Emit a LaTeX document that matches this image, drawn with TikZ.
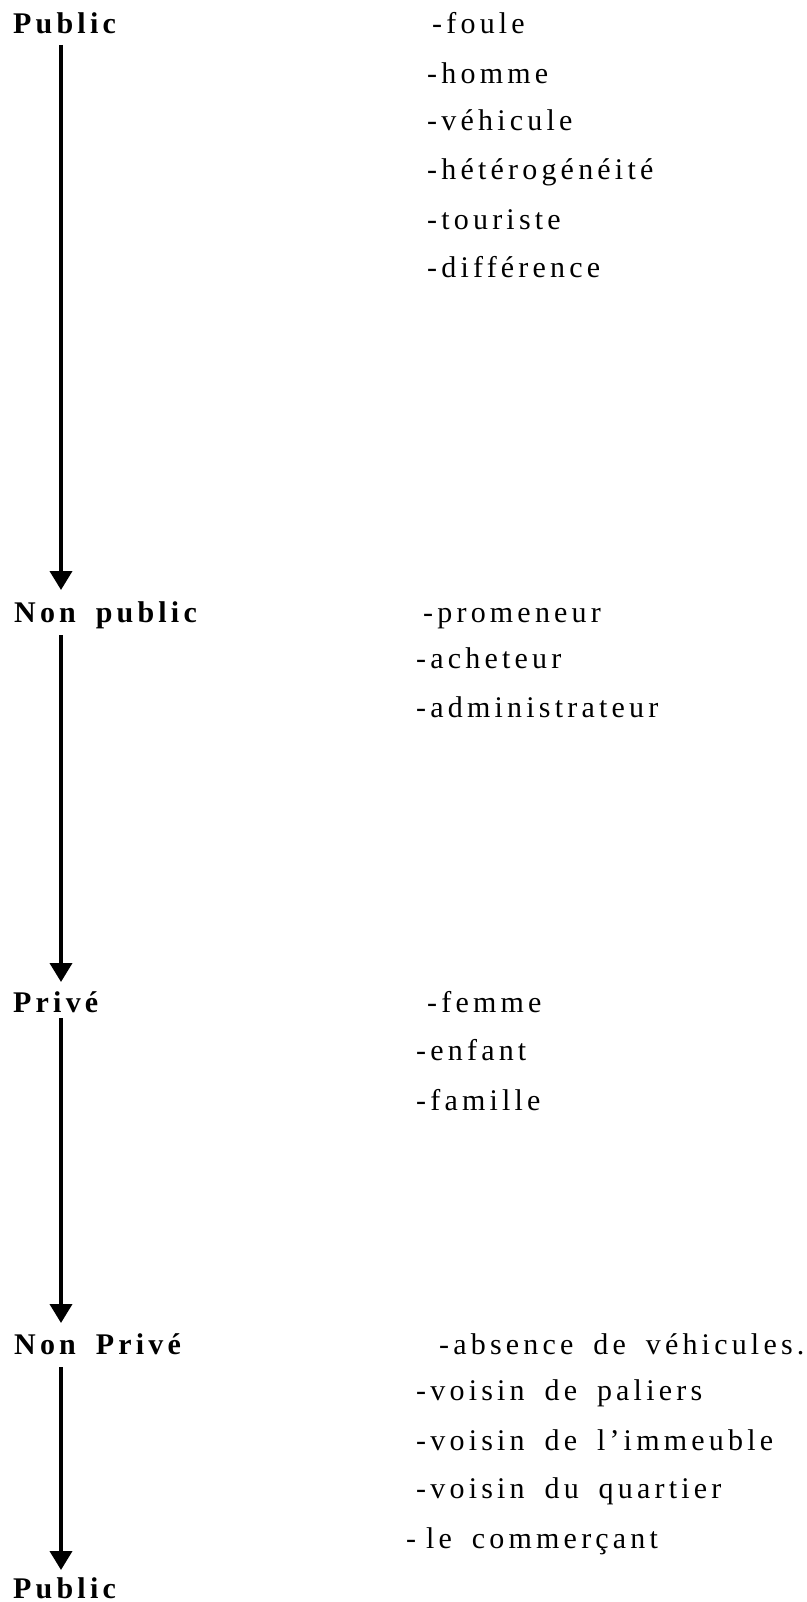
\documentclass[tikz,border=0pt]{standalone}
\usepackage{fontspec}
\setmainfont{Liberation Serif}[LetterSpace=14,WordSpace=1.7]
\usetikzlibrary{arrows.meta}
\begin{document}
\begin{tikzpicture}[x=1pt,y=1pt,
  lab/.style={anchor=base west,inner sep=0pt,font=\fontsize{30pt}{36pt}\selectfont\bfseries},
  itm/.style={anchor=base west,inner sep=0pt,font=\fontsize{30pt}{36pt}\selectfont},
  flow/.style={line width=3.8pt,-{Triangle[width=22pt,length=19pt]}}]
\useasboundingbox (0,0) rectangle (806,-1602);
% left labels
\node[lab] (l1) at (13,-34) {Public};
\node[lab] (l2) at (14,-622) {Non public};
\node[lab] (l3) at (13,-1012) {Privé};
\node[lab] (l4) at (14,-1354) {Non Privé};
\node[lab] (l5) at (13,-1598) {Public};
% arrow ends
\coordinate (s1) at (61,-45);   \coordinate (e1) at (61,-590);
\coordinate (s2) at (61,-635);  \coordinate (e2) at (61,-982);
\coordinate (s3) at (61,-1018); \coordinate (e3) at (61,-1323);
\coordinate (s4) at (61,-1367); \coordinate (e4) at (61,-1570);
\draw[flow] (s1) -- (e1);
\draw[flow] (s2) -- (e2);
\draw[flow] (s3) -- (e3);
\draw[flow] (s4) -- (e4);
% group 1
\node[itm] (a1) at (432,-34) {-foule};
\node[itm] (a2) at (427,-84) {-homme};
\node[itm] (a3) at (427,-131) {-véhicule};
\node[itm] (a4) at (427,-180) {-hétérogénéité};
\node[itm] (a5) at (427,-230) {-touriste};
\node[itm] (a6) at (427,-278) {-différence};
% group 2
\node[itm] (b1) at (423,-622) {-promeneur};
\node[itm] (b2) at (416,-668) {-acheteur};
\node[itm] (b3) at (416,-717) {-administrateur};
% group 3
\node[itm] (c1) at (427,-1012) {-femme};
\node[itm] (c2) at (416,-1060) {-enfant};
\node[itm] (c3) at (416,-1110) {-famille};
% group 4
\node[itm] (d1) at (439,-1354) {-absence de véhicules.};
\node[itm] (d2) at (416,-1400) {-voisin de paliers};
\node[itm] (d3) at (416,-1450) {-voisin de l'immeuble};
\node[itm] (d4) at (416,-1498) {-voisin du quartier};
\node[itm] (d5) at (406,-1548) {-\hspace{10pt}le commerçant};
\end{tikzpicture}
\end{document}
